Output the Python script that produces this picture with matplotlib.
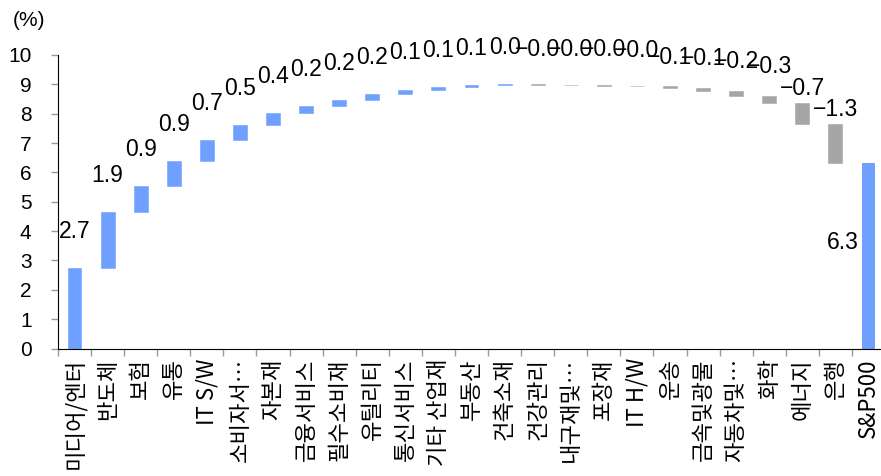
import matplotlib
matplotlib.use("Agg")
import matplotlib.pyplot as plt
import numpy as np

plt.rcParams['font.family'] = ['Noto Sans CJK KR', 'DejaVu Sans']

# sector contributions to S&P500 return (%p)
sectors = ['미디어/엔터', '반도체', '보험', '유통', 'IT S/W', '소비자서…', '자본재',
           '금융서비스', '필수소비재', '유틸리티', '통신서비스', '기타 산업재', '부동산',
           '건축소재', '건강관리', '내구재및…', '포장재', 'IT H/W', '운송', '금속및광물',
           '자동차및…', '화학', '에너지', '은행']
contrib = [2.74, 1.91, 0.87, 0.86, 0.71, 0.51, 0.41, 0.24, 0.22, 0.21, 0.14, 0.10,
           0.06, 0.02, -0.01, -0.01, -0.02, -0.03, -0.06, -0.09, -0.16, -0.26,
           -0.71, -1.33]
total_label = 'S&P500'

BLUE = '#70a0ff'
GREY = '#a6a6a6'

contrib = np.array(contrib)
ends = np.cumsum(contrib)
starts = ends - contrib
total = ends[-1]

labels = sectors + [total_label]
x = np.arange(len(labels))

fig = plt.figure(figsize=(8.81, 4.76), dpi=100)
ax = fig.add_axes([58 / 881, 127.5 / 476, 827 / 881, 293.5 / 476])

colors = [BLUE if v >= 0 else GREY for v in contrib]
ax.bar(x[:-1], contrib, bottom=starts, width=0.42, color=colors,
       edgecolor=colors, linewidth=0.4)
ax.bar(x[-1], total, width=0.42, color=BLUE)

num_font = dict(family=['Liberation Sans', 'DejaVu Sans'], fontsize=16.5)

def fmt(v):
    return f'{v:.1f}'.replace('-', '\u2212')

for i, v in enumerate(contrib):
    top = max(starts[i], ends[i])
    if v >= 0:
        off = 1.25
    elif abs(v) < 0.05:
        off = 1.2
    elif abs(v) < 0.5:
        off = 1.0
    else:
        off = 0.5
    ax.text(x[i], top + off, fmt(v), ha='center', va='center', **num_font)

ax.text(x[-1] - 0.3, total * 0.57, fmt(total), ha='right', va='center', **num_font)

ax.set_xlim(-0.5, len(labels) - 0.5)
ax.set_ylim(0, 10)
ax.set_yticks(range(0, 11))
ax.set_yticklabels([str(t) for t in range(0, 11)],
                   family=['Liberation Sans', 'DejaVu Sans'], fontsize=15)

ax.set_xticks(x)
ax.set_xticklabels(labels, rotation=90, fontsize=16, va='top', ha='center')
ax.set_xticks(np.arange(-0.5, len(labels), 1), minor=True)
ax.tick_params(axis='x', which='major', length=0, pad=7)
ax.tick_params(axis='x', which='minor', length=5, color='#999999', width=1)
ax.tick_params(axis='y', length=5, color='#999999', width=1, pad=14)

for s in ['top', 'right']:
    ax.spines[s].set_visible(False)
ax.spines['left'].set_color('black')
ax.spines['bottom'].set_color('black')

fig.text(13 / 881, 1 - 20 / 476, '(%)', fontsize=15, va='center', ha='left',
         family=['Liberation Sans', 'DejaVu Sans'])

fig.savefig('out.png', dpi=100)
